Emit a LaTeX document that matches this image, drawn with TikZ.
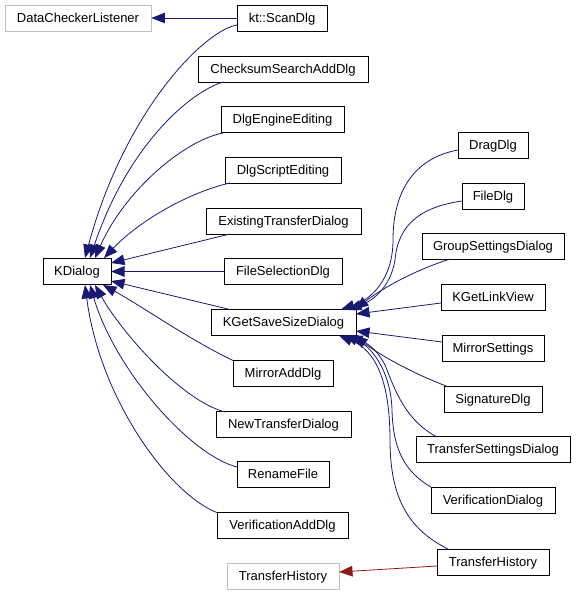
\documentclass[tikz,border=0pt]{standalone}
\usepackage{fontspec}
\setmainfont{Liberation Sans}
\usetikzlibrary{arrows.meta,calc}
\definecolor{edgeblue}{RGB}{25,25,112}
\definecolor{edgered}{RGB}{139,26,26}
\definecolor{extgray}{RGB}{191,191,191}
\begin{document}
\begin{tikzpicture}[x=1pt,y=-1pt,
  box/.style={draw=black,line width=0.9pt,fill=white,inner sep=0pt,minimum height=26pt,text height=9.5pt,text depth=1pt,font=\fontsize{13}{15}\selectfont},
  extbox/.style={box,draw=extgray},
  inh/.style={draw=edgeblue,line width=0.8pt,-{Triangle[length=13.5pt,width=10.5pt]},fill=none},
  inhred/.style={draw=edgered,line width=0.8pt,-{Triangle[length=13.5pt,width=10.5pt]},fill=none}]
\useasboundingbox (0,0) rectangle (576,595);
% nodes
\node[extbox,minimum width=146pt] (dcl) at (78,18) {DataCheckerListener};
\node[box,minimum width=90pt] (scan) at (282,18) {kt::ScanDlg};
\node[box,minimum width=170pt] (csa) at (283,69) {ChecksumSearchAddDlg};
\node[box,minimum width=123pt] (dee) at (282.5,119.5) {DlgEngineEditing};
\node[box,minimum width=116pt] (dse) at (283,170.5) {DlgScriptEditing};
\node[box,minimum width=155pt] (etd) at (283.5,221) {ExistingTransferDialog};
\node[box,minimum width=118pt] (fsd) at (283,271.5) {FileSelectionDlg};
\node[box,minimum width=68pt] (kd) at (77,271.5) {KDialog};
\node[box,minimum width=145pt] (kgs) at (283.5,322.5) {KGetSaveSizeDialog};
\node[box,minimum width=100pt] (mad) at (283,373.5) {MirrorAddDlg};
\node[box,minimum width=135pt] (ntd) at (283.5,424) {NewTransferDialog};
\node[box,minimum width=92pt] (rf) at (283,474.5) {RenameFile};
\node[box,minimum width=131pt] (vad) at (282.5,525.5) {VerificationAddDlg};
\node[extbox,minimum width=112pt] (thg) at (283,576) {TransferHistory};
\node[box,minimum width=70pt] (drag) at (493,145.5) {DragDlg};
\node[box,minimum width=62pt] (fdlg) at (493,196) {FileDlg};
\node[box,minimum width=142pt] (gsd) at (493,246) {GroupSettingsDialog};
\node[box,minimum width=104pt] (klv) at (493,297) {KGetLinkView};
\node[box,minimum width=102pt] (ms) at (493,348) {MirrorSettings};
\node[box,minimum width=98pt] (sd) at (493,399) {SignatureDlg};
\node[box,minimum width=154pt] (tsd) at (493,449.5) {TransferSettingsDialog};
\node[box,minimum width=124pt] (vd) at (493,500) {VerificationDialog};
\node[box,minimum width=112pt] (th) at (493,562) {TransferHistory};
% edges to DataCheckerListener
\draw[inh] (scan.west) -- (dcl.east);
% edges to KDialog
\draw[inh] ($(scan)+(-45,7)$) .. controls (205,30) and (125,110) .. ($(kd)+(8,-13.5)$);
\draw[inh] ($(csa)+(-60,13)$) .. controls (190,92) and (128,145) .. ($(kd)+(13,-13.5)$);
\draw[inh] ($(dee)+(-59.5,13.5)$) .. controls (185,140) and (125,190) .. ($(kd)+(18,-13.5)$);
\draw[inh] ($(dse)+(-53,12.5)$) .. controls (190,192) and (140,220) .. ($(kd)+(27,-13.5)$);
\draw[inh] ($(etd)+(-53.5,13)$) -- ($(kd)+(34,-8.5)$);
\draw[inh] (fsd.west) -- ($(kd)+(34,0)$);
\draw[inh] ($(kgs)+(-53.5,-13)$) -- ($(kd)+(34,9.5)$);
\draw[inh] ($(mad)+(-50,-13)$) .. controls (190,340) and (140,305) .. ($(kd)+(26,13.5)$);
\draw[inh] ($(ntd)+(-58.5,-12)$) .. controls (180,400) and (120,330) .. ($(kd)+(18,13.5)$);
\draw[inh] ($(rf)+(-46,-7.5)$) .. controls (190,455) and (115,370) .. ($(kd)+(13,13.5)$);
\draw[inh] ($(vad)+(-64.5,-12.5)$) .. controls (170,495) and (100,400) .. ($(kd)+(8,13.5)$);
% edges to KGetSaveSizeDialog
\draw[inh] ($(drag)+(-35,4.5)$) .. controls (415,158) and (393,190) .. (393,240) .. controls (393,280) and (370,300) .. ($(kgs)+(57.5,-13)$);
\draw[inh] ($(fdlg)+(-31,5)$) .. controls (420,207) and (398,225) .. (395,260) .. controls (390,290) and (370,302) .. ($(kgs)+(64.5,-13)$);
\draw[inh] ($(gsd)+(-43,13)$) .. controls (410,272) and (380,290) .. ($(kgs)+(71.5,-13)$);
\draw[inh] ($(klv)+(-52,6)$) -- ($(kgs)+(72.5,-8.5)$);
\draw[inh] ($(ms)+(-51,-6)$) -- ($(kgs)+(72.5,8.5)$);
\draw[inh] ($(sd)+(-47,-13)$) .. controls (410,372) and (380,355) .. ($(kgs)+(70.5,13)$);
\draw[inh] ($(tsd)+(-56,-12.5)$) .. controls (405,420) and (395,390) .. (385,365) .. controls (375,345) and (360,340) .. ($(kgs)+(65.5,13)$);
\draw[inh] ($(vd)+(-62,-13)$) .. controls (405,472) and (393,450) .. (392,410) .. controls (391,370) and (370,345) .. ($(kgs)+(60.5,13)$);
\draw[inh] ($(th)+(-45,-13)$) .. controls (410,530) and (390,500) .. (390,440) .. controls (390,380) and (375,350) .. ($(kgs)+(55.5,13)$);
% edge to external TransferHistory
\draw[inhred] ($(th)+(-56,4)$) -- ($(thg)+(56,-4)$);
\end{tikzpicture}
\end{document}
